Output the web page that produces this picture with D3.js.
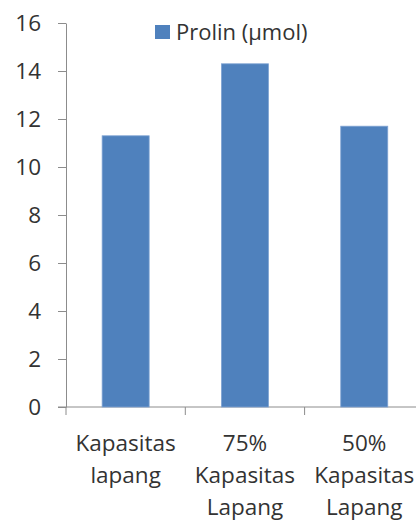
<!DOCTYPE html>
<html>
<head>
<meta charset="utf-8">
<script src="https://cdn.jsdelivr.net/npm/d3@7"></script>
<style>
  html, body { margin: 0; padding: 0; background: #fff; }
  svg { display: block; }
  text { font-family: "Open Sans", "Noto Sans", sans-serif; fill: #333; }
</style>
</head>
<body>
<svg id="chart" width="416" height="520"></svg>
<script>
// Proline content per field-capacity treatment
const categories = ["Kapasitas lapang", "75% Kapasitas Lapang", "50% Kapasitas Lapang"];
const prolin = [11.3, 14.3, 11.7];
const yTicks = [0, 2, 4, 6, 8, 10, 12, 14, 16];
const seriesName = "Prolin (µmol)";

(function () {
  const svg = d3.select("#chart");
  const plotLeft = 66, plotTop = 23, plotBottom = 407, step = 119.3;
  const gray = "#8c8c8c";

  const x = d3.scaleBand()
    .domain(categories)
    .range([plotLeft, plotLeft + step * categories.length])
    .paddingInner(0.606)
    .paddingOuter(0.303);

  const y = d3.scaleLinear().domain([0, 16]).range([plotBottom, plotTop]);

  // Value axis
  const yAxis = svg.append("g")
    .attr("transform", `translate(${plotLeft},0)`)
    .call(d3.axisLeft(y).tickValues(yTicks).tickSize(8).tickSizeOuter(0).tickPadding(17));
  yAxis.select(".domain").attr("stroke", gray);
  yAxis.selectAll(".tick line").attr("stroke", gray);
  yAxis.selectAll(".tick text").attr("font-size", 22.5).style("fill", "#333")
    .attr("font-family", '"Open Sans", sans-serif');

  // Category axis: baseline plus boundary ticks
  const xBase = svg.append("g");
  xBase.append("line")
    .attr("x1", plotLeft - 8).attr("x2", plotLeft + step * categories.length)
    .attr("y1", y(0)).attr("y2", y(0))
    .attr("stroke", gray);
  xBase.selectAll("line.bound")
    .data(d3.range(categories.length + 1))
    .join("line")
    .attr("class", "bound")
    .attr("x1", i => plotLeft + i * step).attr("x2", i => plotLeft + i * step)
    .attr("y1", y(0)).attr("y2", y(0) + 8)
    .attr("stroke", gray);

  // Bars
  svg.append("g").selectAll("rect")
    .data(categories.map((c, i) => ({ c, v: prolin[i] })))
    .join("rect")
    .attr("x", d => x(d.c))
    .attr("y", d => y(d.v))
    .attr("width", x.bandwidth())
    .attr("height", d => y(0) - y(d.v))
    .attr("fill", "#4f81bd")
    .attr("stroke", "#7fa3d3")
    .attr("stroke-width", 0.8);

  // Category labels, one word per line
  const lab = svg.append("g");
  categories.forEach(c => {
    const cx = x(c) + x.bandwidth() / 2;
    const t = lab.append("text")
      .attr("text-anchor", "middle")
      .attr("font-size", 22.5);
    c.split(" ").forEach((w, i) => {
      t.append("tspan").attr("x", cx).attr("y", 451 + i * 32).text(w);
    });
  });

  // Legend
  const lg = svg.append("g");
  lg.append("rect").attr("x", 155).attr("y", 25).attr("width", 15).attr("height", 14).attr("fill", "#4f81bd");
  lg.append("text").attr("x", 176).attr("y", 40).attr("font-size", 22).text(seriesName);
})();
</script>
</body>
</html>
